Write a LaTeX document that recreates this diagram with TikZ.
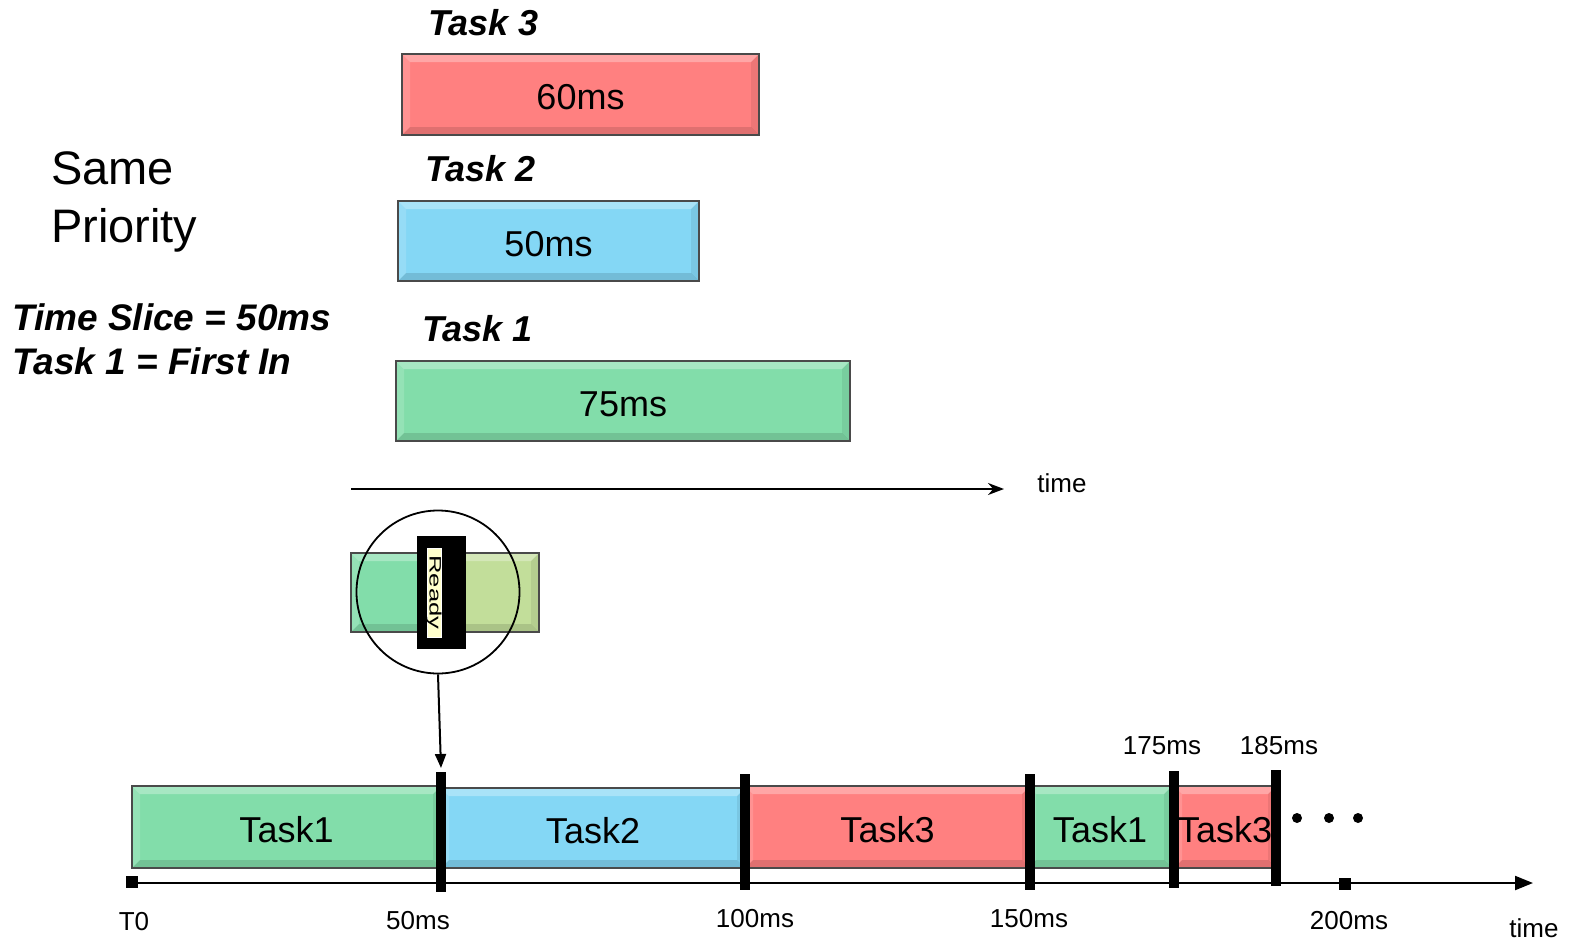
\documentclass[tikz,border=0pt]{standalone}
\usepackage{fontspec}
\setmainfont{Liberation Sans}
\usetikzlibrary{arrows.meta}

\definecolor{taskred}{HTML}{FF8080}
\definecolor{taskblue}{HTML}{84D7F5}
\definecolor{taskgreen}{HTML}{82DDAA}
\definecolor{readyolive}{HTML}{C2DE9A}
\definecolor{edgegray}{HTML}{4A4A4A}
\definecolor{readyfill}{HTML}{FFFFCC}

\newcommand\fsz[1]{\fontsize{#1}{#1}\selectfont}

\tikzset{
  % raised, bevelled look of the task bars
  bevel/.style={path picture={
    \path (path picture bounding box.north west) coordinate (bnw)
          (path picture bounding box.north east) coordinate (bne)
          (path picture bounding box.south west) coordinate (bsw)
          (path picture bounding box.south east) coordinate (bse);
    \fill[white, opacity=0.30] (bnw) -- (bne) -- ([xshift=-8pt,yshift=-8pt]bne) -- ([xshift=8pt,yshift=-8pt]bnw) -- cycle;
    \fill[white, opacity=0.15] (bnw) -- (bsw) -- ([xshift=8pt,yshift=8pt]bsw) -- ([xshift=8pt,yshift=-8pt]bnw) -- cycle;
    \fill[black, opacity=0.07] (bne) -- (bse) -- ([xshift=-8pt,yshift=8pt]bse) -- ([xshift=-8pt,yshift=-8pt]bne) -- cycle;
    \fill[black, opacity=0.12] (bsw) -- (bse) -- ([xshift=-8pt,yshift=8pt]bse) -- ([xshift=8pt,yshift=8pt]bsw) -- cycle;
  }},
  taskbox/.style={draw=edgegray, line width=2.5pt, fill=#1, inner sep=0pt, bevel, font=\fsz{36},
    text height=30pt, text depth=0pt},
  tasklabel/.style={anchor=base west, inner sep=0pt, font=\fsz{36}\bfseries\itshape},
  ticklabel/.style={inner sep=0pt, font=\fsz{26}},
  slicebar/.style={fill=black, inner sep=0pt, minimum width=10pt},
  tickmark/.style={fill=black, inner sep=0pt, minimum size=12pt},
  dotmark/.style={fill=black, circle, inner sep=0pt, minimum size=10pt},
}

\begin{document}
\begin{tikzpicture}[x=1pt, y=-1pt]
\useasboundingbox (0,0) rectangle (1569,940);

% ---- legend on the left
\node[anchor=base west, inner sep=0pt, font=\fsz{47}] (same) at (51,184) {Same};
\node[anchor=base west, inner sep=0pt, font=\fsz{47}] (prio) at (51,242) {Priority};
\node[tasklabel, font=\fsz{37}\bfseries\itshape] (slice) at (12,330) {Time Slice = 50ms};
\node[tasklabel, font=\fsz{37}\bfseries\itshape] (first) at (12,374) {Task 1 = First In};

% ---- the three tasks and their run times
\node[tasklabel] (lab3) at (428,35) {Task 3};
\node[taskbox=taskred, minimum width=357pt, minimum height=81pt] (job3) at (580.5,94.5) {60ms};
\node[tasklabel] (lab2) at (425,181) {Task 2};
\node[taskbox=taskblue, minimum width=301pt, minimum height=80pt] (job2) at (548.5,241) {50ms};
\node[tasklabel] (lab1) at (422,341) {Task 1};
\node[taskbox=taskgreen, minimum width=454pt, minimum height=80pt] (job1) at (623,401) {75ms};

% ---- time direction
\coordinate (tstart) at (351,489);
\coordinate (tend) at (1004,489);
\draw[line width=2.2pt, -{Stealth[length=16pt,width=12pt]}] (tstart) -- (tend);
\node[ticklabel] (tlabel) at (1062,483) {time};

% ---- magnified switch point
\node[taskbox=taskgreen, minimum width=90pt, minimum height=79pt] (lensa) at (396,592.5) {};
\node[taskbox=readyolive, minimum width=98pt, minimum height=79pt] (lensb) at (490,592.5) {};
\node[fill=black, inner sep=0pt, minimum width=49pt, minimum height=113pt] (frame) at (441.5,592.5) {};
\node[fill=readyfill, draw=white, line width=1pt, inner sep=0pt, minimum width=14pt, minimum height=89pt] (readybox) at (434,592.5) {};
\node[inner sep=0pt, rotate=-90] (ready) at (434,592.5) {\resizebox{74pt}{12pt}{Ready}};
\node[draw, circle, line width=1.8pt, inner sep=0pt, minimum size=163pt] (lens) at (438,592) {};
\coordinate (switch) at (441,768);
\draw[line width=2pt, -{Triangle[length=14pt,width=11pt]}] (lens.south) -- (switch);

% ---- round-robin schedule
\node[taskbox=taskgreen, minimum width=309pt, minimum height=82pt] (run1) at (286.5,827) {Task1};
\node[taskbox=taskblue,  minimum width=304pt, minimum height=80pt] (run2) at (593,828) {Task2};
\node[taskbox=taskred,   minimum width=285pt, minimum height=82pt] (run3) at (887.5,827) {Task3};
\node[taskbox=taskgreen, minimum width=144pt, minimum height=82pt] (run4) at (1100,827) {Task1};
\node[taskbox=taskred,   minimum width=102pt, minimum height=82pt] (run5) at (1225,827) {Task3};

% time axis
\node[tickmark] (t0mark) at (132,882) {};
\node[tickmark] (t200mark) at (1345,884) {};
\coordinate (axisstart) at (132,883);
\coordinate (axisend) at (1533,883);
\draw[line width=2.2pt, -{Triangle[length=18pt,width=14pt]}] (axisstart) -- (axisend);

% slice boundaries
\node[slicebar, minimum height=120pt] (b50)  at (441,832) {};
\node[slicebar, minimum height=116pt] (b100) at (745,832) {};
\node[slicebar, minimum height=116pt] (b150) at (1030,832) {};
\node[slicebar, minimum height=117pt] (b175) at (1174,829.5) {};
\node[slicebar, minimum height=116pt] (b185) at (1276,828) {};

% continuation dots
\node[dotmark] (d1) at (1297,818) {};
\node[dotmark] (d2) at (1329,818) {};
\node[dotmark] (d3) at (1358,818) {};

% axis labels
\node[ticklabel] (l0)   at (134,922)  {T0};
\node[ticklabel] (l50)  at (418,921)  {50ms};
\node[ticklabel] (l100) at (755,919)  {100ms};
\node[ticklabel] (l150) at (1029,919) {150ms};
\node[ticklabel] (l200) at (1349,921) {200ms};
\node[ticklabel] (ltime) at (1534,928) {time};
\node[ticklabel] (l175) at (1162,746) {175ms};
\node[ticklabel] (l185) at (1279,746) {185ms};
\end{tikzpicture}
\end{document}
